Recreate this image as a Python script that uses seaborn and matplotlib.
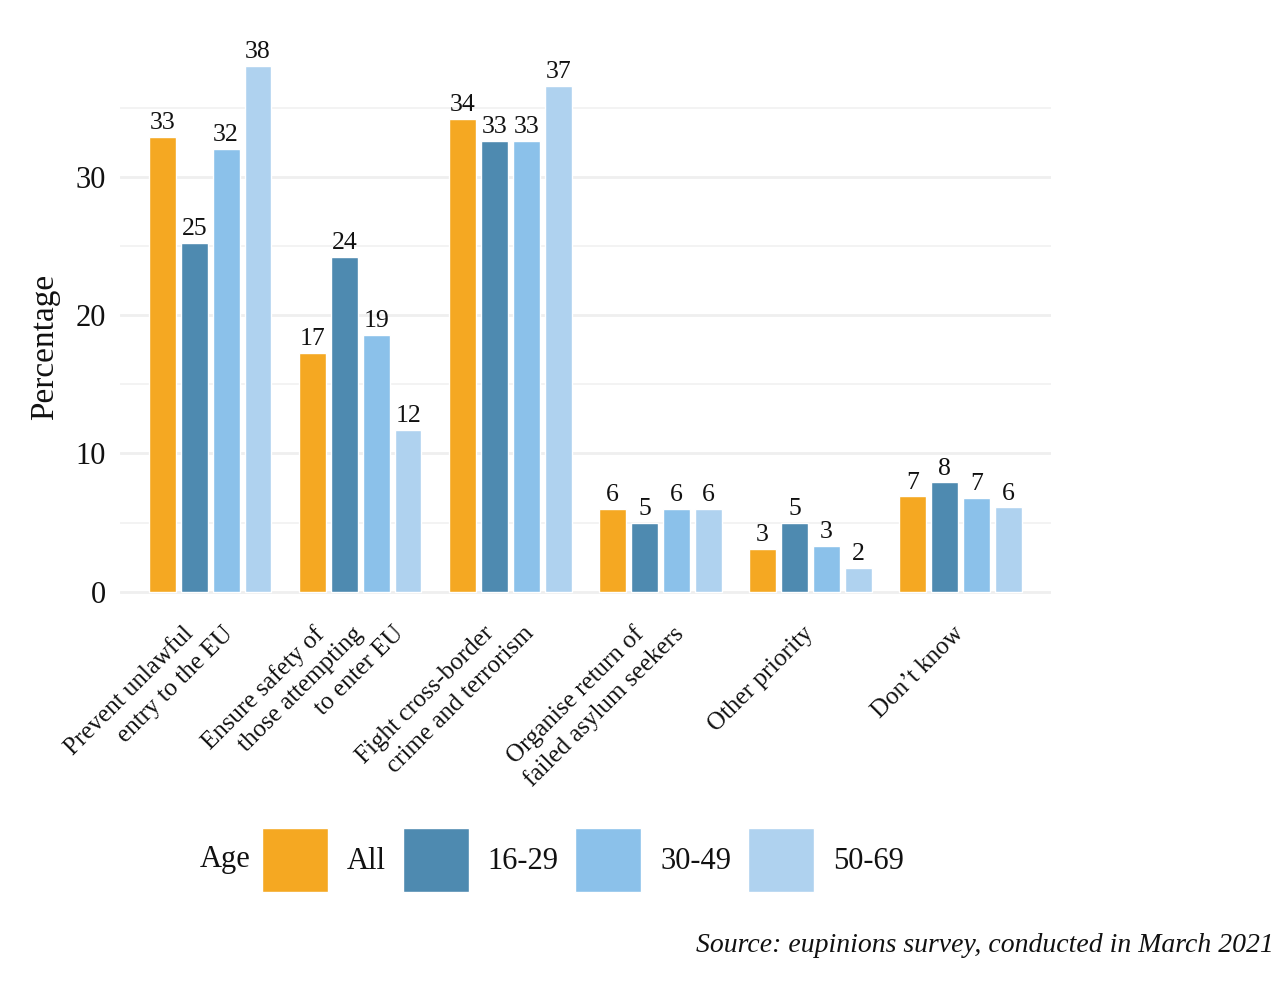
import pandas as pd
import numpy as np
import matplotlib.pyplot as plt
import seaborn as sns
from matplotlib.ticker import MultipleLocator
from matplotlib.transforms import ScaledTranslation

# Data (percent)
categories = [
    "Prevent unlawful\nentry to the EU",
    "Ensure safety of\nthose attempting\nto enter EU",
    "Fight cross-border\ncrime and terrorism",
    "Organise return of\nfailed asylum seekers",
    "Other priority",
    "Don\u2019t know",
]
age_groups = ["All", "16-29", "30-49", "50-69"]
all_ages = [32.9, 17.3, 34.2, 6.0, 3.1, 6.9]
age_16_29 = [25.2, 24.2, 32.6, 5.0, 5.0, 7.9]
age_30_49 = [32.0, 18.6, 32.6, 6.0, 3.3, 6.8]
age_50_69 = [38.0, 11.7, 36.6, 6.0, 1.7, 6.1]
colors = ["#F5A822", "#4E8AB0", "#8BC1EA", "#AFD2EF"]

df = pd.DataFrame({
    "priority": categories * 4,
    "age": np.repeat(age_groups, len(categories)),
    "value": all_ages + age_16_29 + age_30_49 + age_50_69,
})

sns.set_style("white")
plt.rcParams["font.family"] = ["Liberation Serif", "DejaVu Serif"]

fig = plt.figure(figsize=(12.78, 10), dpi=100)
ax = fig.add_axes([0.094, 0.382, 0.728, 0.578])

sns.barplot(data=df, x="priority", y="value", hue="age", order=categories,
            hue_order=age_groups, palette=colors, width=0.85, gap=0.16,
            saturation=1, errorbar=None, legend=True, ax=ax, zorder=3)

# value labels on top of the bars
for cont in ax.containers:
    ax.bar_label(cont, fmt="{:.0f}", padding=2, fontsize=18.5, color="#111111")

ax.set_xlim(-0.6, 5.6)
ax.set_ylim(-1.9, 39.9)
ax.yaxis.set_major_locator(MultipleLocator(10))
ax.yaxis.set_minor_locator(MultipleLocator(5))
ax.grid(axis="y", which="major", color="#efefef", linewidth=2.0, zorder=0)
ax.grid(axis="y", which="minor", color="#f3f3f3", linewidth=1.4, zorder=0)
ax.grid(axis="x", visible=False)
ax.set_axisbelow(True)
for s in ax.spines.values():
    s.set_visible(False)

ax.tick_params(axis="y", which="both", length=0, pad=10, labelsize=22, labelcolor="#111111")
ax.tick_params(axis="x", length=0)
ax.set_xticks(range(len(categories)))
ax.set_xticklabels([""] * len(categories))
ax.set_xlabel("")

# rotated category labels, one text per line so the line ends sit side by side
for i, lab in enumerate(categories):
    lines = lab.split("\n")
    n = len(lines)
    for k, line in enumerate(lines):
        dx = (-8 + 40 * (k - (n - 1) / 2)) * 72 / fig.dpi
        tr = ax.get_xaxis_transform() + ScaledTranslation(dx / 72, 0, fig.dpi_scale_trans)
        ax.text(i, -0.008, line, transform=tr, rotation=45, ha="right", va="top",
                rotation_mode="anchor", fontsize=18, color="#111111")

ax.set_ylabel("Percentage", fontsize=24, color="#111111")
ax.yaxis.set_label_coords(-0.064, 0.469)

# legend along the bottom, title to the left
handles, labels = ax.get_legend_handles_labels()
ax.get_legend().remove()
fig.legend(handles, labels, loc="center left", bbox_to_anchor=(0.205, 0.14),
           ncol=4, frameon=False, fontsize=22, handlelength=2.16,
           handleheight=2.89, handletextpad=0.62, columnspacing=0.55,
           borderpad=0, borderaxespad=0, labelcolor="#111111")
fig.text(0.156, 0.14, "Age", fontsize=22, ha="left", va="center", color="#111111")

fig.text(0.997, 0.055, "Source: eupinions survey, conducted in March 2021",
         fontsize=20, style="italic", ha="right", va="center", color="#111111")

fig.savefig("out.png", dpi=100)
